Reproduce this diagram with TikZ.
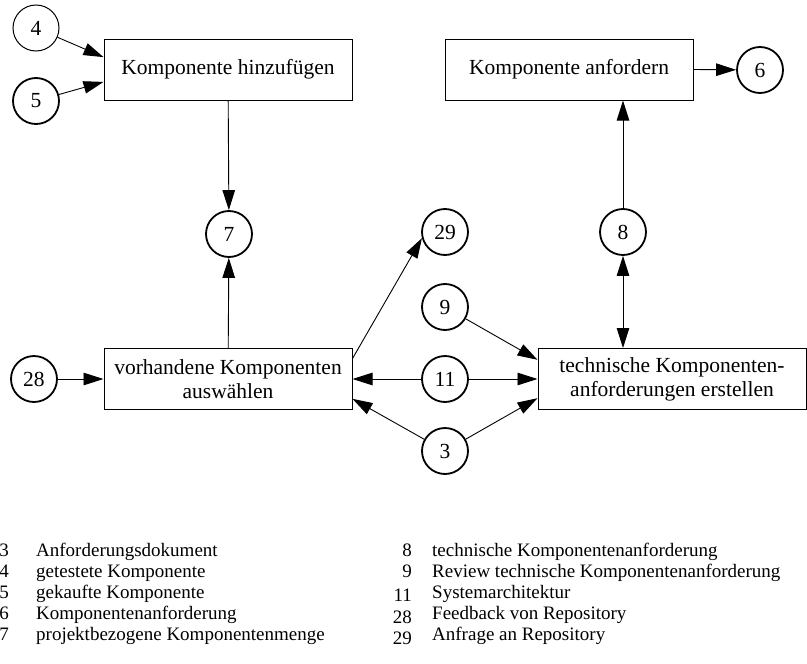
\documentclass[tikz,border=0pt]{standalone}
\usepackage{fontspec}
\setmainfont{Liberation Serif}
\usetikzlibrary{arrows.meta,calc}

\newcommand\procfont{\fontsize{21.5}{24}\selectfont}
\newcommand\keyfont{\fontsize{19}{21}\selectfont}

\begin{document}
\begin{tikzpicture}[x=1pt,y=-1pt,
  proc/.style={draw,line width=1pt,minimum width=248pt,minimum height=61pt,
    align=center,inner sep=0pt,font=\procfont},
  flow/.style={circle,draw,line width=1.8pt,minimum size=46pt,inner sep=0pt,font=\procfont},
  thinflow/.style={flow,line width=1pt},
  link/.style={line width=0.9pt,-{Triangle[length=20pt,width=12.5pt]}},
  biglink/.style={line width=0.9pt,{Triangle[length=20pt,width=12.5pt]}-{Triangle[length=20pt,width=12.5pt]}},
  keynum/.style={anchor=base east,inner sep=0pt,font=\keyfont},
  keytext/.style={anchor=base west,inner sep=0pt,font=\keyfont}]

\useasboundingbox (0,0) rectangle (807,664);

% processes
\node[proc] (kh) at (228,69.5) {Komponente hinzufügen};
\node[proc] (ka) at (569,69.5) {Komponente anfordern};
\node[proc] (vk) at (228,379) {vorhandene Komponenten\\auswählen};
\node[proc,minimum width=268pt] (tk) at (672,379) {technische Komponenten-\\anforderungen erstellen};

% data flows
\node[thinflow] (c4) at (36,28) {4};
\node[flow] (c5) at (36,101) {5};
\node[flow] (c6) at (760,70) {6};
\node[flow] (c7) at (229,234) {7};
\node[flow] (c8) at (623,232) {8};
\node[flow] (c29) at (445,232) {29};
\node[flow] (c9) at (445,307) {9};
\node[flow] (c11) at (445,379) {11};
\node[flow] (c3) at (445,451) {3};
\node[flow] (c28) at (34,379) {28};

% connectors
\draw[link] (c4) -- ($(kh.north west)!0.3!(kh.south west)$);
\draw[link] (c5) -- ($(kh.north west)!0.7!(kh.south west)$);
\draw[link] (kh) -- (c7);
\draw[link] (vk) -- (c7);
\draw[link] (ka.east) -- (c6);
\draw[link] (c8) -- (c8 |- ka.south);
\draw[biglink] (c8) -- (c8 |- tk.north);
\draw[link] ($(vk.north east)!0.17!(vk.south east)$) -- (c29.195);
\draw[link] (c9) -- ($(tk.north west)!0.19!(tk.south west)$);
\draw[link] (c11) -- (vk.east);
\draw[link] (c11) -- (tk.west);
\draw[link] (c3) -- ($(vk.north east)!0.82!(vk.south east)$);
\draw[link] (c3) -- ($(tk.north west)!0.81!(tk.south west)$);
\draw[link] (c28) -- (vk.west);

% key
\node[keynum] (n3) at (9,556) {3};
\node[keytext] (t3) at (36,556) {Anforderungsdokument};
\node[keynum] (n4) at (9,577) {4};
\node[keytext] (t4) at (36,577) {getestete Komponente};
\node[keynum] (n5) at (9,598) {5};
\node[keytext] (t5) at (36,598) {gekaufte Komponente};
\node[keynum] (n6) at (9,619) {6};
\node[keytext] (t6) at (36,619) {Komponentenanforderung};
\node[keynum] (n7) at (9,640) {7};
\node[keytext] (t7) at (36,640) {projektbezogene Komponentenmenge};

\node[keynum] (n8) at (412,556) {8};
\node[keytext] (t8) at (432,556) {technische Komponentenanforderung};
\node[keynum] (n9) at (412,577) {9};
\node[keytext] (t9) at (432,577) {Review technische Komponentenanforderung};
\node[keynum] (n11) at (412,601) {11};
\node[keytext] (t11) at (432,598) {Systemarchitektur};
\node[keynum] (n28) at (412,623) {28};
\node[keytext] (t28) at (432,619) {Feedback von Repository};
\node[keynum] (n29) at (412,644) {29};
\node[keytext] (t29) at (432,640) {Anfrage an Repository};
\end{tikzpicture}
\end{document}
